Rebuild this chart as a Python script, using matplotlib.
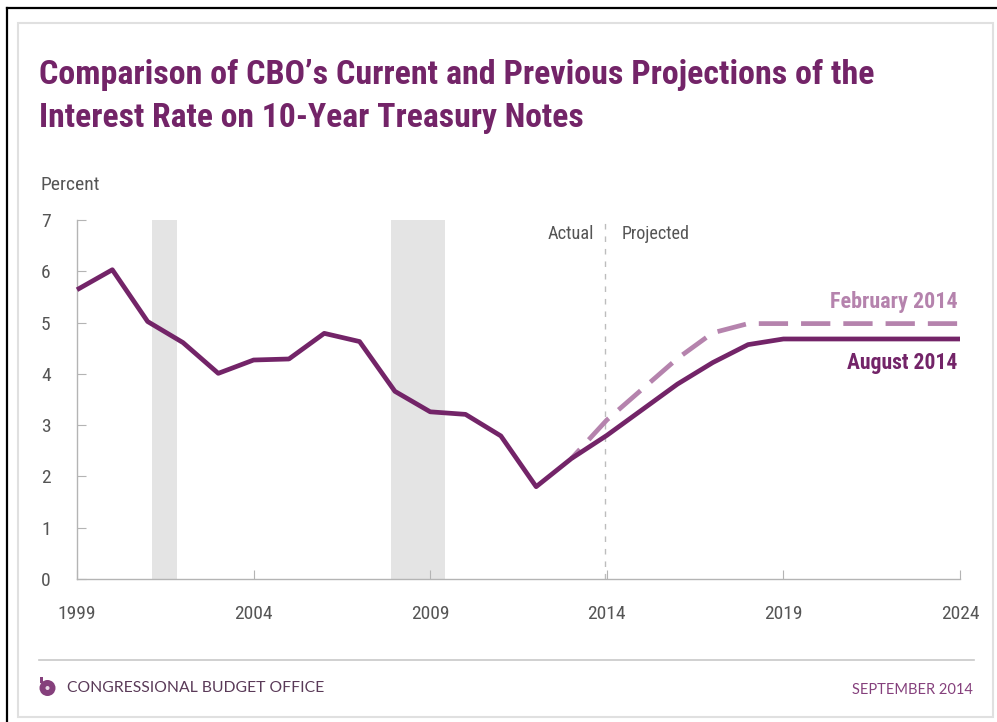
'''Interest rate on 10-year Treasury notes, current and previous projections.'''

# Importing modules.
import matplotlib.pyplot as plt
from matplotlib.patches import Circle, Rectangle

# Years and rates, in percent.
years = list(range(1999, 2025))
august = [5.64, 6.03, 5.02, 4.61, 4.01, 4.27, 4.29, 4.79, 4.63, 3.66, 3.26, 3.21, 2.79,
          1.80, 2.35, 2.80, 3.30, 3.80, 4.22, 4.57, 4.68, 4.68, 4.68, 4.68, 4.68, 4.68]
feb_years = list(range(2013, 2025))
february = [2.35, 3.10, 3.70, 4.30, 4.80, 4.98, 4.98, 4.98, 4.98, 4.98, 4.98, 4.98]
recessions = [(2001.12, 2001.83), (2007.89, 2009.42)]
year_ticks = [1999, 2004, 2009, 2014, 2019, 2024]
rate_ticks = [0, 1, 2, 3, 4, 5, 6, 7]

PURPLE = '#732468'
LIGHT = '#b583ad'
GRAY = '#555555'
AXIS = '#b4b4b4'
W, H = 997, 722

plt.rcParams['font.family'] = ['Roboto Condensed', 'DejaVu Sans']

fig = plt.figure(figsize=(W / 100, H / 100), dpi=100)

# Full-figure axes in pixel coordinates for the frame, title and footer.
bg = fig.add_axes([0, 0, 1, 1])
bg.set_xlim(0, W)
bg.set_ylim(H, 0)
bg.axis('off')
bg.plot([6.5, 6.5], [H, 8], color='black', lw=1.6)
bg.plot([6.5, W], [8, 8], color='black', lw=1.6)
bg.add_patch(Rectangle((18, 23), 975, 694, fill=False, ec='#e0e0e0', lw=1.5))
bg.text(39, 75, 'Comparison of CBO\u2019s Current and Previous Projections of the',
        fontsize=24.5, fontweight='bold', color=PURPLE, va='center')
bg.text(39, 118, 'Interest Rate on 10-Year Treasury Notes',
        fontsize=24.2, fontweight='bold', color=PURPLE, va='center')
bg.text(40, 185, 'Percent', fontsize=14, color=GRAY, va='center')
bg.plot([39, 974], [660, 660], color='#c8c8c8', lw=1.2)

# Footer with the round logo.
bg.add_patch(Circle((47.5, 688), 8, fc='#85407c', ec='none'))
bg.add_patch(Circle((47.5, 688), 2, fc='#e8d8e6', ec='none'))
bg.add_patch(Rectangle((40, 677), 2.5, 6, fc='#85407c', ec='none'))
bg.text(67, 688, 'CONGRESSIONAL BUDGET OFFICE', fontsize=11.3, color='#5a3a58', va='center',
        family=['Lato', 'DejaVu Sans'])
bg.text(973, 690, 'SEPTEMBER 2014', fontsize=10.5, color='#85407c', va='center', ha='right',
        family=['Lato', 'DejaVu Sans'])

# Data axes: 1999 to 2024 across, 0 to 7 percent up.
ax = fig.add_axes([77 / W, 1 - 579 / H, (960 - 77) / W, (579 - 220) / H])
ax.patch.set_alpha(0)
ax.set_xlim(1999, 2024)
ax.set_ylim(0, 7)

for start, end in recessions:
    ax.axvspan(start, end, color='#e4e4e4', lw=0, zorder=1)

ax.axvline(2013.96, color='#bdbdbd', lw=1, dashes=(4, 5), zorder=1)

# The offset makes the last full dash stop just short of the right edge.
ax.plot(feb_years, february, color=LIGHT, lw=3.4, linestyle=(3.56, (6.2, 2.75)),
        dash_capstyle='butt', zorder=2)
ax.plot(years, august, color=PURPLE, lw=3.4, solid_joinstyle='round', solid_capstyle='butt',
        zorder=3, clip_on=False)

ax.spines[['top', 'right']].set_visible(False)
ax.spines[['left', 'bottom']].set_color(AXIS)
ax.spines[['left', 'bottom']].set_linewidth(1)
ax.set_xticks(year_ticks)
ax.set_yticks(rate_ticks)
ax.tick_params(axis='x', direction='in', length=6.5, color=AXIS, labelsize=14,
               labelcolor=GRAY, pad=18.5)
ax.tick_params(axis='y', direction='in', length=6.5, color=AXIS, labelsize=14,
               labelcolor=GRAY, pad=19)

ax.text(2013.65, 6.72, 'Actual', fontsize=13.2, color=GRAY, ha='right', va='center')
ax.text(2014.43, 6.72, 'Projected', fontsize=13, color=GRAY, ha='left', va='center')
ax.text(2023.93, 5.4, 'February 2014', fontsize=15.8, fontweight='bold', color=LIGHT,
        ha='right', va='center')
ax.text(2023.93, 4.21, 'August 2014', fontsize=15.6, fontweight='bold', color=PURPLE,
        ha='right', va='center')

# Saves the figure.
fig.savefig('out.png', dpi=100)
